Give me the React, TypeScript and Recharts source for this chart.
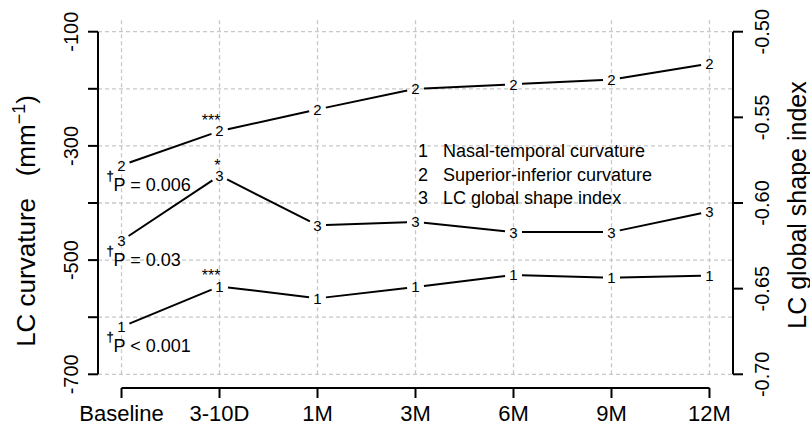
import React from "react";
import { LineChart, Line, XAxis, YAxis, ReferenceLine, Legend } from "recharts";

const FONT = "'Liberation Sans', Arial, Helvetica, sans-serif";

const categories = ["Baseline", "3-10D", "1M", "3M", "6M", "9M", "12M"];
const nasalTemporal = [-617, -546, -567, -547, -526, -531, -527];
const superiorInferior = [-334, -274, -236, -200, -192, -184, -156];
const globalShapeIndex = [-0.622, -0.584, -0.613, -0.611, -0.617, -0.617, -0.605];

const starsNT = ["", "***", "", "", "", "", ""];
const starsSI = ["", "***", "", "", "", "", ""];
const starsGSI = ["", "*", "", "", "", "", ""];

const pNT = "P < 0.001";
const pSI = "P = 0.006";
const pGSI = "P = 0.03";

const seriesDigits = ["1", "2", "3"];
const seriesNames = ["Nasal-temporal curvature", "Superior-inferior curvature", "LC global shape index"];

const leftTicks = [-700, -600, -500, -400, -300, -200, -100];
const leftLabelled = [-700, -500, -300, -100];
const rightTicks = [-0.7, -0.65, -0.6, -0.55, -0.5];
const xTicks = categories.map((_, i) => i);

const data = categories.map((c, i) => ({
  x: i,
  cat: c,
  nt: nasalTemporal[i],
  si: superiorInferior[i],
  gsi: globalShapeIndex[i],
}));

const cache: Record<string, { x: number; y: number }[]> = { nt: [], si: [], gsi: [] };

function makeDot(key: string, digit: string, stars: string[], pText: string) {
  return (props: any) => {
    const { cx, cy, index } = props;
    if (cx == null || cy == null || isNaN(cx) || isNaN(cy)) return <g key={`${key}-${index}`} />;
    cache[key][index] = { x: cx, y: cy };
    const prev = index > 0 ? cache[key][index - 1] : undefined;
    let seg = null;
    if (prev) {
      const dx = cx - prev.x;
      const dy = cy - prev.y;
      const len = Math.hypot(dx, dy) || 1;
      const ux = dx / len;
      const uy = dy / len;
      const g = 8.5;
      seg = (
        <line
          x1={prev.x + ux * g}
          y1={prev.y + uy * g}
          x2={cx - ux * g}
          y2={cy - uy * g}
          stroke="#000"
          strokeWidth={2}
        />
      );
    }
    const star = stars[index];
    return (
      <g key={`${key}-${index}`}>
        {seg}
        <text x={cx} y={cy + 5.4} textAnchor="middle" fontSize={15} fontFamily={FONT} style={{ fill: "#000" }}>
          {digit}
        </text>
        {star ? (
          <text x={cx + 1} y={cy - 5} textAnchor="end" fontSize={16} fontFamily={FONT} style={{ fill: "#000" }}>
            {star}
          </text>
        ) : null}
        {index === 0 ? (
          <g>
            <text
              x={cx - 15}
              y={cy + 14.5}
              fontSize={13}
              fontFamily={FONT}
              style={{ fill: "#000", stroke: "#000", strokeWidth: 0.3 }}
            >
              {"\u2020"}
            </text>
            <text x={cx - 8} y={cy + 25.5} fontSize={18} fontFamily={FONT} style={{ fill: "#000" }}>
              {pText}
            </text>
          </g>
        ) : null}
      </g>
    );
  };
}

const XTick = (props: any) => {
  const { x, y, payload } = props;
  return (
    <text x={x} y={y} dy="0.71em" textAnchor="middle" fontSize={22} fontFamily={FONT} fill="#000">
      {categories[payload.value]}
    </text>
  );
};

const LeftTick = (props: any) => {
  const { x, y, payload } = props;
  if (!leftLabelled.includes(payload.value)) return <g />;
  return (
    <text
      transform={`translate(${x},${y}) rotate(-90)`}
      textAnchor="middle"
      fontSize={20}
      fontFamily={FONT}
      fill="#000"
    >
      {String(payload.value)}
    </text>
  );
};

const RightTick = (props: any) => {
  const { x, y, payload } = props;
  return (
    <text
      transform={`translate(${x},${y}) rotate(-90)`}
      textAnchor="middle"
      fontSize={20}
      fontFamily={FONT}
      fill="#000"
    >
      {Number(payload.value).toFixed(2)}
    </text>
  );
};

const LeftTitle = () => (
  <text
    transform="translate(35,221) rotate(-90)"
    textAnchor="middle"
    fontSize={26}
    fontFamily={FONT}
    fill="#000"
    style={{ whiteSpace: "pre" }}
  >
    <tspan>{"LC curvature   (mm"}</tspan>
    <tspan dy={-10} fontSize={18}>{"\u22121"}</tspan>
    <tspan dy={10}>{")"}</tspan>
  </text>
);

const RightTitle = () => (
  <text
    transform="translate(806,205) rotate(-90)"
    textAnchor="middle"
    fontSize={25}
    fontFamily={FONT}
    fill="#000"
  >
    LC global shape index
  </text>
);

const LegendBox = () => (
  <div style={{ fontFamily: FONT, fontSize: 18, lineHeight: "23.5px", color: "#000", whiteSpace: "nowrap" }}>
    {seriesNames.map((n, i) => (
      <div key={n} style={{ display: "flex" }}>
        <span style={{ display: "inline-block", width: 25 }}>{seriesDigits[i]}</span>
        <span>{n}</span>
      </div>
    ))}
  </div>
);

const gridStroke = "#c8c8c8";

export default function App() {
  return (
    <div style={{ position: "absolute", left: 0, top: 0, width: 810, height: 426, background: "#fff" }}>
      <LineChart width={810} height={426} data={data} margin={{ top: 18, right: 17, bottom: 8, left: 38 }}>
        {leftTicks.map((v) => (
          <ReferenceLine key={`h${v}`} yAxisId="left" y={v} stroke={gridStroke} strokeWidth={1.3} strokeDasharray="4 3" />
        ))}
        {xTicks.map((i) => (
          <ReferenceLine
            key={`v${i}`}
            yAxisId="left"
            segment={[{ x: i, y: -700 }, { x: i, y: -76 }]}
            stroke={gridStroke}
            strokeWidth={1.3}
            strokeDasharray="4 3"
            ifOverflow="visible"
          />
        ))}
        <XAxis
          type="number"
          dataKey="x"
          domain={[-0.24, 6.24]}
          ticks={xTicks}
          allowDataOverflow
          interval={0}
          height={30}
          axisLine={false}
          tickSize={10}
          tickMargin={7}
          tickLine={{ stroke: "#000", strokeWidth: 2 }}
          tick={XTick}
        />
        <YAxis
          yAxisId="left"
          domain={[-724, -76]}
          ticks={leftTicks}
          allowDataOverflow
          interval={0}
          width={60}
          axisLine={false}
          tickSize={10}
          tickMargin={10}
          tickLine={{ stroke: "#000", strokeWidth: 2 }}
          tick={LeftTick}
          label={{ content: LeftTitle }}
        />
        <YAxis
          yAxisId="right"
          orientation="right"
          domain={[-0.708, -0.492]}
          ticks={rightTicks}
          allowDataOverflow
          interval={0}
          width={60}
          axisLine={false}
          tickSize={10}
          tickMargin={26}
          tickLine={{ stroke: "#000", strokeWidth: 2 }}
          tick={RightTick}
          label={{ content: RightTitle }}
        />
        <ReferenceLine
          yAxisId="left"
          segment={[{ x: -0.24, y: -700 }, { x: -0.24, y: -100 }]}
          stroke="#000"
          strokeWidth={2}
          ifOverflow="visible"
        />
        <ReferenceLine
          yAxisId="left"
          segment={[{ x: 6.24, y: -700 }, { x: 6.24, y: -100 }]}
          stroke="#000"
          strokeWidth={2}
          ifOverflow="visible"
        />
        <ReferenceLine
          yAxisId="left"
          segment={[{ x: 0, y: -724 }, { x: 6, y: -724 }]}
          stroke="#000"
          strokeWidth={2}
          ifOverflow="visible"
        />
        <Line
          yAxisId="left"
          dataKey="nt"
          stroke="none"
          isAnimationActive={false}
          activeDot={false}
          dot={makeDot("nt", seriesDigits[0], starsNT, pNT)}
        />
        <Line
          yAxisId="left"
          dataKey="si"
          stroke="none"
          isAnimationActive={false}
          activeDot={false}
          dot={makeDot("si", seriesDigits[1], starsSI, pSI)}
        />
        <Line
          yAxisId="right"
          dataKey="gsi"
          stroke="none"
          isAnimationActive={false}
          activeDot={false}
          dot={makeDot("gsi", seriesDigits[2], starsGSI, pGSI)}
        />
        <Legend
          layout="vertical"
          align="center"
          verticalAlign="middle"
          wrapperStyle={{ left: 418, top: 140, width: 300 }}
          content={() => <LegendBox />}
        />
      </LineChart>
    </div>
  );
}
